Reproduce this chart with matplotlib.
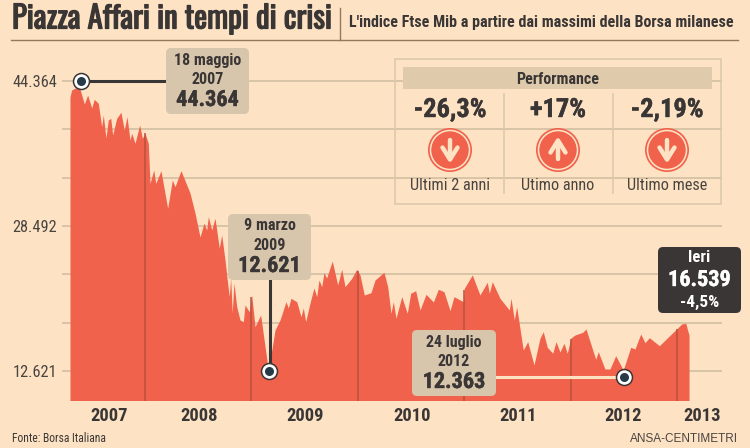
import matplotlib
matplotlib.use("Agg")
import matplotlib.pyplot as plt
import matplotlib.patheffects as pe
from matplotlib.patches import FancyBboxPatch, Circle, Rectangle
from matplotlib.transforms import Affine2D
import numpy as np

# ---------- data ----------
dates = [2007.295,2007.311,2007.358,2007.389,2007.430,2007.461,2007.499,2007.523,2007.561,2007.593,
 2007.608,2007.633,2007.655,2007.678,2007.696,2007.734,2007.774,2007.805,2007.831,2007.859,
 2007.875,2007.906,2007.950,2007.975,2008.000,2008.031,2008.047,2008.082,2008.101,2008.150,
 2008.213,2008.257,2008.282,2008.338,2008.423,2008.470,2008.517,2008.555,2008.580,2008.595,
 2008.627,2008.658,2008.698,2008.721,2008.752,2008.773,2008.792,2008.805,2008.820,2008.836,
 2008.862,2008.893,2008.924,2008.940,2008.980,2009.003,2009.034,2009.087,2009.160,2009.222,
 2009.269,2009.325,2009.347,2009.372,2009.426,2009.466,2009.488,2009.510,2009.551,2009.588,
 2009.614,2009.635,2009.661,2009.682,2009.707,2009.760,2009.811,2009.849,2009.880,2009.943,
 2009.990,2010.021,2010.061,2010.124,2010.162,2010.246,2010.281,2010.312,2010.334,2010.359,
 2010.413,2010.465,2010.497,2010.544,2010.585,2010.641,2010.710,2010.757,2010.810,2010.867,
 2010.904,2010.992,2011.001,2011.076,2011.148,2011.217,2011.236,2011.264,2011.336,2011.424,
 2011.440,2011.471,2011.493,2011.555,2011.597,2011.656,2011.712,2011.743,2011.781,2011.832,
 2011.863,2011.900,2011.938,2011.969,2012.001,2012.041,2012.114,2012.145,2012.213,2012.236,
 2012.260,2012.323,2012.370,2012.424,2012.495,2012.565,2012.605,2012.659,2012.699,2012.740,
 2012.834,2013.044,2013.082,2013.113]
ftse_mib = [42645,43380,43675,43455,41845,42830,41410,42360,41925,39360,
 40640,38125,40095,40280,38455,40280,40940,39000,40455,37905,
 38640,37545,39550,38090,38640,37545,33165,34620,33165,34545,
 30430,33525,32795,34545,32105,29915,27290,28820,28055,29510,
 28055,29335,26085,27505,24770,22580,20755,22800,18970,22255,
 19660,18205,18015,19845,19110,20940,17470,18750,12621,17110,
 18205,20205,19515,20580,20205,18565,19515,18015,20065,21705,
 20755,22580,21850,23380,22800,24660,22035,23755,21850,22765,
 23755,23130,20940,21190,22580,23425,21850,18935,20205,18390,
 20755,18935,21125,21410,19300,21015,20175,21565,21300,19220,
 20755,20205,21675,23130,20940,22330,21125,22395,20580,19300,
 20580,18205,19660,14920,15830,13275,16200,16925,15215,14560,
 15830,14700,15650,14560,16200,16560,16855,17220,14735,13900,
 14735,12840,12840,14295,12730,15215,15030,16670,15720,16265,
 15390,17765,17840,16539]

year_starts = [2008, 2009, 2010, 2011, 2012, 2013]
year_labels = ["2007", "2008", "2009", "2010", "2011", "2012", "2013"]
year_label_pos = [2007.662, 2008.508, 2009.504, 2010.509, 2011.506, 2012.493, 2013.240]
grid_values = [44364, 39073, 33782, 28492, 23202, 17911, 12621]
grid_labels = ["44.364", "", "", "28.492", "", "", "12.621"]

marker_dates = [2007.398, 2009.165, 2012.500]
marker_values = [44364, 12621, 12363]
marker_shift_px = [0, 0, -4]

perf_values = ["-26,3%", "+17%", "-2,19%"]
perf_labels = ["Ultimi 2 anni", "Utimo anno", "Ultimo mese"]
perf_dirs = [-1, 1, -1]

# ---------- style ----------
BG = "#fde3c4"; RED = "#f0624b"; SEP = "#b9523f"; GRID = "#cdbb9f"
BOX = "#d8c6ac"; DARK = "#3a3635"; TXT = "#4a4441"; NAVY = "#263a48"
NARROW = ["Roboto Condensed", "Archivo Narrow", "Barlow Condensed", "DejaVu Sans"]
TITLE = ["Oswald", "Roboto Condensed", "Barlow Condensed", "DejaVu Sans"]
plt.rcParams["font.family"] = NARROW

W, H = 750, 448
fig = plt.figure(figsize=(W/100, H/100), dpi=100, facecolor=BG)

def px_rect(l, t, r, b):
    return [l/W, 1-b/H, (r-l)/W, (b-t)/H]

# ---------- chart axes ----------
ax = fig.add_axes(px_rect(62, 48, 721.5, 400.5))
ax.set_facecolor("none")
for s in ax.spines.values():
    s.set_visible(False)
xscale = 106.4; yscale = 109.46
ax.set_xlim(2008 + (62-145)/xscale, 2008 + (721.5-145)/xscale)
ax.set_ylim(44364 - (400.5-81)*yscale, 44364 + (81-48)*yscale)
bottom = ax.get_ylim()[0]

ax.set_yticks(grid_values, grid_labels)
ax.set_xticks(year_label_pos, year_labels)
ax.yaxis.grid(True, color=GRID, lw=1.1, zorder=1)
ax.set_axisbelow(True)
ax.tick_params(axis="y", length=0, pad=3.5, labelsize=11.8, labelcolor=TXT)
ax.tick_params(axis="x", length=0, pad=5, labelsize=13.3, labelcolor=DARK)
for t in ax.get_xticklabels():
    t.set_fontweight("bold")

ax.fill_between(dates, ftse_mib, bottom, color=RED, lw=0, zorder=2)
ax.vlines(year_starts, bottom, np.interp(year_starts, dates, ftse_mib), color=SEP, lw=1.1, zorder=3)

# ---------- overlay in pixels ----------
ov = fig.add_axes([0, 0, 1, 1], zorder=5)
ov.set_xlim(0, W); ov.set_ylim(H, 0); ov.axis("off"); ov.patch.set_visible(False)

def box(l, t, r, b, color, rs=5):
    ov.add_patch(FancyBboxPatch((l, t), r-l, b-t, boxstyle=f"round,pad=0,rounding_size={rs}",
                                fc=color, ec="none", zorder=3))

def txt(x, y, s, size, weight="bold", color=DARK, ha="center", stroke=0, **kw):
    t = ov.text(x, y, s, fontsize=size, fontweight=weight, color=color, ha=ha, va="center", zorder=6, **kw)
    if stroke:
        t.set_path_effects([pe.withStroke(linewidth=stroke, foreground=color)])
    return t

# header
txt(12, 19, "Piazza Affari in tempi di crisi", 22.2, ha="left", family=TITLE, stroke=0.9)
txt(349, 22.5, "L'indice Ftse Mib a partire dai massimi della Borsa milanese", 11.5, ha="left")
ov.plot([11, 738], [40.5, 40.5], color="#94795a", lw=1)
ov.plot([340, 340], [8, 40], color="#94795a", lw=1)

# connector lines
ov.plot([81, 166], [81, 81], color=DARK, lw=2.2, zorder=2)
ov.plot([269.5, 269.5], [280, 371], color=DARK, lw=2.2, zorder=2)
ov.plot([496, 624], [377.5, 377.5], color="#fde3c4", lw=2.2, zorder=2)

# callouts
for (l, t, r, b, a, c, v) in [(166, 48, 249, 114, "18 maggio", "2007", "44.364"),
                              (228, 214, 311, 280, "9 marzo", "2009", "12.621"),
                              (412, 330, 496, 396, "24 luglio", "2012", "12.363")]:
    box(l, t, r, b, BOX)
    cx = (l+r)/2
    txt(cx, t+12, a, 11.5)
    txt(cx, t+31, c, 11.5)
    txt(cx, t+52, v, 16, stroke=0.3)

box(658, 247, 741, 313, DARK)
txt(699.5, 258, "Ieri", 12, color="white")
txt(699.5, 280, "16.539", 16, color="white", stroke=0.3)
txt(699.5, 302, "-4,5%", 12.5, color="white")

# performance panel
ov.add_patch(Rectangle((395, 59), 326, 145, fc="none", ec="#dcc9ac", lw=1.2))
ov.add_patch(Rectangle((403, 67), 309, 22, fc="#dfcaab", ec="none"))
txt(558, 79, "Performance", 11.5)
for xd in [504, 612.7]:
    ov.plot([xd, xd], [94, 193], color="#dcc9ac", lw=1.2)
for cx, v, lab, d in zip([450, 558, 667], perf_values, perf_labels, perf_dirs):
    txt(cx, 110, v, 19, stroke=0.3)
    txt(cx, 185.5, lab, 11.7, weight="normal", color=TXT)
    ov.add_patch(Circle((cx, 150), 22, fc=RED, ec="none"))
    ov.add_patch(Circle((cx, 150), 20.3, fc=BG, ec="none"))
    ov.add_patch(Circle((cx, 150), 18.7, fc=RED, ec="none"))
    kw = dict(color=BG, lw=3.2, solid_capstyle="round", solid_joinstyle="round")
    ov.plot([cx, cx], [150-d*9, 150+d*9.5], **kw)
    ov.plot([cx-7.5, cx, cx+7.5], [150+d*2.5, 150-d*9.5, 150+d*2.5], **kw)

# footer
txt(12, 439, "Fonte: Borsa Italiana", 8.4, weight="normal", ha="left")
ov.text(738, 439, "ANSA-CENTIMETRI", fontsize=8.5, family="Liberation Sans", color=TXT, ha="right", va="center")

# markers on the data scale, drawn above the overlay
mk = fig.add_axes(ax.get_position(), zorder=7)
mk.set_xlim(ax.get_xlim()); mk.set_ylim(ax.get_ylim()); mk.axis("off"); mk.patch.set_visible(False)
for d, v, s in zip(marker_dates, marker_values, marker_shift_px):
    tr = mk.transData + Affine2D().translate(0, s)
    mk.plot([d], [v], "o", ms=11.5, mfc="white", mec=DARK, mew=1.1, transform=tr, clip_on=False)
    mk.plot([d], [v], "o", ms=6.5, mfc=NAVY, mec="none", transform=tr, clip_on=False)

fig.savefig("out.png", dpi=100, facecolor=BG)
